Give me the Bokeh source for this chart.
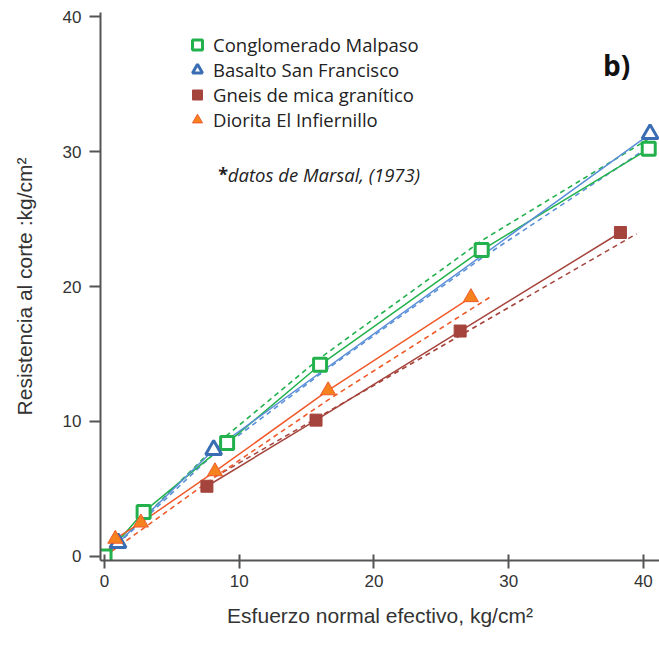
from bokeh.plotting import figure
from bokeh.models import Range1d, FixedTicker, Legend, LegendItem, Label
from bokeh.embed import file_html
from bokeh.resources import INLINE

# ---- data ----
cong_x = [0.0, 2.9, 9.1, 16.0, 28.0, 40.4]
cong_y = [0.0, 3.3, 8.4, 14.2, 22.7, 30.2]
cong_fit_x = [0.0, 9.0, 16.0, 28.0, 40.5]
cong_fit_y = [0.0, 8.9, 14.7, 23.4, 31.0]

bas_x = [1.0, 8.1, 40.5]
bas_y = [1.0, 7.9, 31.3]
bas_line_x = [0.0, 1.0, 8.1, 40.5]
bas_line_y = [0.0, 1.0, 7.9, 31.3]
bas_fit_x = [0.0, 8.0, 16.0, 28.0, 40.5]
bas_fit_y = [0.0, 7.5, 13.5, 22.1, 30.4]

gne_x = [7.6, 15.7, 26.4, 38.3]
gne_y = [5.2, 10.1, 16.7, 24.0]
gne_fit_x = [8.2, 39.5]
gne_fit_y = [5.9, 23.9]

dio_x = [0.8, 2.7, 8.2, 16.6, 27.2]
dio_y = [1.3, 2.5, 6.3, 12.3, 19.2]
dio_line_x = [0.0, 0.8, 2.7, 8.2, 16.6, 27.2]
dio_line_y = [0.0, 1.3, 2.5, 6.3, 12.3, 19.2]
dio_fit_x = [0.0, 8.2, 16.6, 28.6]
dio_fit_y = [0.0, 5.9, 11.6, 19.2]

x_ticks = [0, 10, 20, 30, 40]
y_ticks = [0, 10, 20, 30, 40]

GREEN = "#22b14c"
BLUE_M = "#3a6db3"
BLUE_L = "#5b90d8"
BROWN = "#a5443c"
ORANGE = "#f5821f"
RED = "#f05a2a"

p = figure(width=659, height=645, output_backend="svg", toolbar_location=None,
           x_range=Range1d(-0.3, 41.2), y_range=Range1d(-0.3, 40.3),
           min_border_left=100, min_border_right=0, min_border_top=12,
           min_border_bottom=85)
p.outline_line_color = None
p.grid.visible = False
p.background_fill_color = "white"
p.border_fill_color = "white"

# fit lines (dashed)
p.line(cong_fit_x, cong_fit_y, line_color=GREEN, line_width=1.6, line_dash="5 4")
p.line(bas_fit_x, bas_fit_y, line_color=BLUE_L, line_width=1.6, line_dash="5 4")
p.line(gne_fit_x, gne_fit_y, line_color=BROWN, line_width=1.6, line_dash="5 4")
p.line(dio_fit_x, dio_fit_y, line_color=RED, line_width=1.6, line_dash="5 4")

# solid lines
p.line(cong_x, cong_y, line_color=GREEN, line_width=1.5)
p.line(bas_line_x, bas_line_y, line_color=BLUE_L, line_width=1.5)
p.line(gne_x, gne_y, line_color=BROWN, line_width=1.5)
p.line(dio_line_x, dio_line_y, line_color=RED, line_width=1.5)

# markers
r_g = p.scatter(cong_x, cong_y, marker="square", size=13, fill_color="white",
                line_color=GREEN, line_width=3)
r_b = p.scatter(bas_x, bas_y, marker="triangle", size=16, fill_color="white",
                line_color=BLUE_M, line_width=3)
r_n = p.scatter(gne_x, gne_y, marker="square", size=12, fill_color=BROWN,
                line_color=BROWN, line_width=1)
r_d = p.scatter(dio_x, dio_y, marker="triangle", size=15, fill_color=ORANGE,
                line_color=RED, line_width=1)

legend = Legend(items=[
    LegendItem(label="Conglomerado Malpaso", renderers=[r_g]),
    LegendItem(label="Basalto San Francisco", renderers=[r_b]),
    LegendItem(label="Gneis de mica granítico", renderers=[r_n]),
    LegendItem(label="Diorita El Infiernillo", renderers=[r_d]),
], location=(84, 428))
legend.glyph_width = 26
legend.glyph_height = 25
legend.label_height = 25
legend.spacing = 0
legend.padding = 0
legend.margin = 0
legend.label_standoff = 3
legend.border_line_color = None
legend.background_fill_alpha = 0
legend.label_text_font = "Open Sans"
legend.label_text_font_size = "18.5px"
legend.label_text_color = "#222222"
p.add_layout(legend)

# axes
for ax in (p.xaxis[0], p.yaxis[0]):
    ax.axis_line_color = "#555555"
    ax.axis_line_width = 2
    ax.major_tick_line_color = "#555555"
    ax.major_tick_line_width = 2
    ax.minor_tick_line_color = None
    ax.major_label_text_font = "Liberation Sans"
    ax.major_label_text_font_size = "17px"
    ax.major_label_text_color = "#333333"
    ax.axis_label_text_font = "Liberation Sans"
    ax.axis_label_text_font_size = "21px"
    ax.axis_label_text_font_style = "normal"
    ax.axis_label_text_color = "#333333"

p.xaxis.ticker = FixedTicker(ticks=x_ticks)
p.yaxis.ticker = FixedTicker(ticks=y_ticks)
p.xaxis.major_tick_in = 6
p.xaxis.major_tick_out = 8
p.xaxis.major_label_standoff = 6
p.xaxis.axis_label = "Esfuerzo normal efectivo, kg/cm²"
p.xaxis.axis_label_standoff = 14
p.yaxis.major_tick_in = 0
p.yaxis.major_tick_out = 11
p.yaxis.major_label_standoff = 8
p.yaxis.axis_label = "Resistencia al corte :kg/cm²"
p.yaxis.axis_label_standoff = 24

# annotations
p.add_layout(Label(x=8.45, y=28.3, text="*", text_font="Open Sans",
                   text_font_style="bold", text_font_size="18px",
                   text_color="#222222", text_baseline="middle"))
p.add_layout(Label(x=9.15, y=28.3, text="datos de Marsal, (1973)",
                   text_font="Open Sans", text_font_style="italic",
                   text_font_size="18.5px", text_color="#222222",
                   text_baseline="middle"))
p.add_layout(Label(x=37.0, y=36.4, text="b)", text_font="Open Sans",
                   text_font_style="bold", text_font_size="28px",
                   text_color="#111111", text_baseline="middle"))

open("out.html", "w").write(file_html(p, INLINE))
